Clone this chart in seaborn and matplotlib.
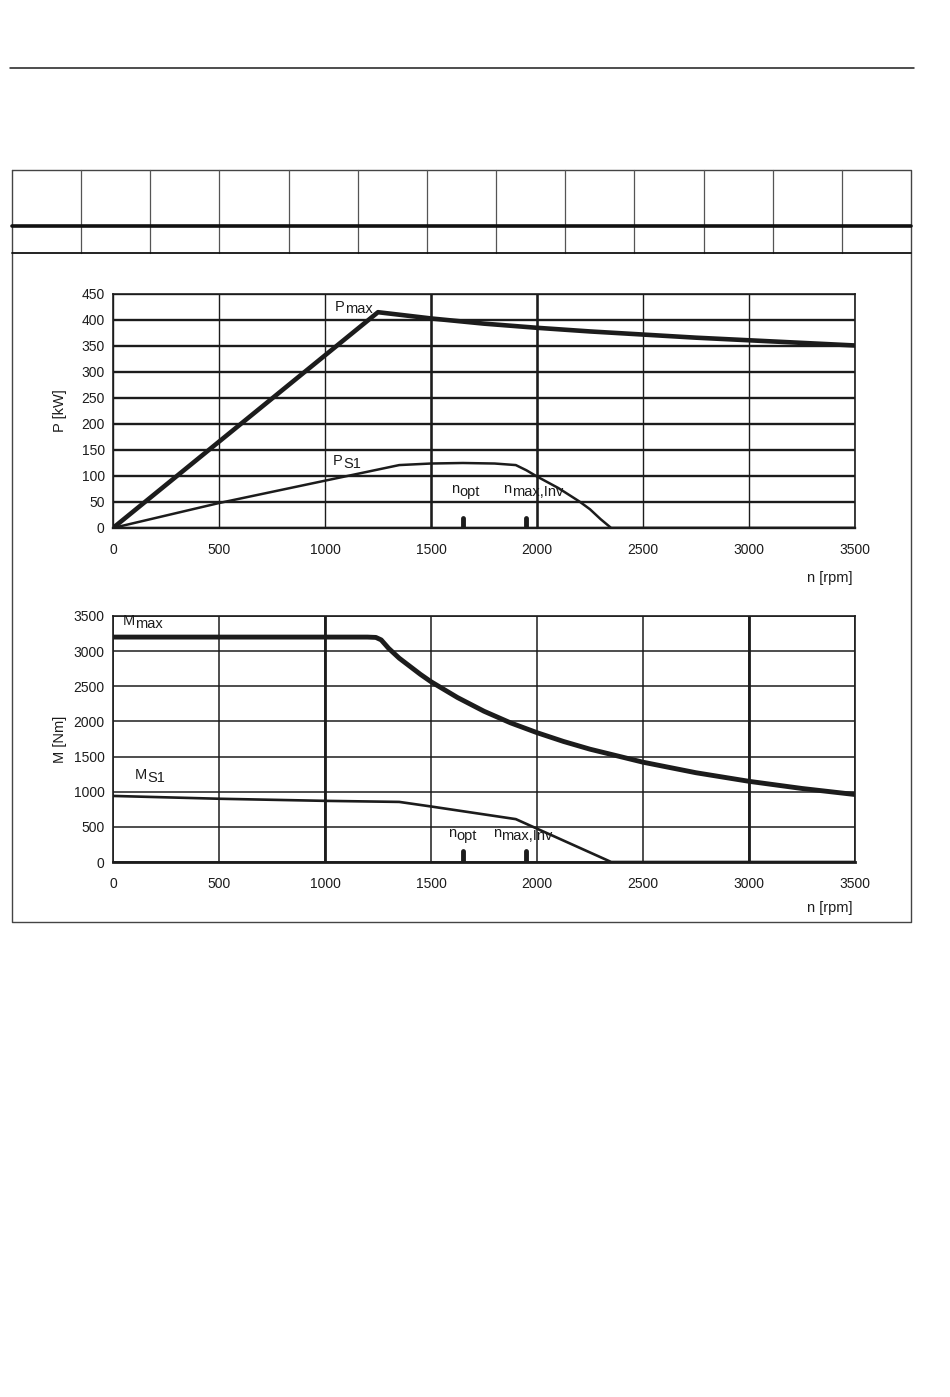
import numpy as np
import pandas as pd
import matplotlib
matplotlib.use("Agg")
import matplotlib.pyplot as plt
import seaborn as sns

# --- values ---
rpm_ticks = [0, 500, 1000, 1500, 2000, 2500, 3000, 3500]
p_ticks = [0, 50, 100, 150, 200, 250, 300, 350, 400, 450]
m_ticks = [0, 500, 1000, 1500, 2000, 2500, 3000, 3500]

pmax_rpm = [0, 1250, 1375, 1500, 1625, 1750, 1875, 2000, 2250, 2500, 2750, 3000, 3250, 3500]
pmax_kw = [0, 415, 409, 403, 398, 393, 389, 385, 378, 372, 366, 361, 356, 351]

ps1_rpm = [0, 500, 1000, 1350, 1500, 1650, 1800, 1900, 1950, 2000, 2100, 2200, 2250, 2300, 2350, 3500]
ps1_kw = [0, 48, 91, 121, 124, 125, 124, 121, 111, 99, 77, 51, 36, 17, 0, 0]

mmax_rpm = [0, 1200, 1240, 1265, 1300, 1350, 1400, 1450, 1500, 1625, 1750, 1875,
            2000, 2125, 2250, 2500, 2750, 3000, 3250, 3500]
mmax_nm = [3200, 3200, 3195, 3160, 3040, 2900, 2785, 2670, 2565, 2340, 2145, 1980,
           1840, 1715, 1605, 1420, 1270, 1148, 1046, 960]

ms1_rpm = [0, 500, 1000, 1350, 1500, 1900, 2350, 3500]
ms1_nm = [940, 900, 870, 855, 790, 610, 0, 0]

marker_rpm = [1650, 1950]
marker_p = 19
marker_m = 150

ink = "#1c1c1c"

sns.set_style("white")
plt.rcParams["font.family"] = ["Liberation Sans", "DejaVu Sans"]

fig = plt.figure(figsize=(9.5, 13.97), dpi=100)

# page decoration in pixel coordinates
bg = fig.add_axes([0, 0, 1, 1], zorder=0)
bg.set_xlim(0, 950)
bg.set_ylim(1397, 0)
bg.axis("off")
bg.plot([10, 914], [68, 68], color=ink, lw=1.1)
bg.plot([12, 911, 911, 12, 12], [170, 170, 922, 922, 170], color="#444444", lw=1.0)
for i in range(1, 13):
    xc = 12 + i * (911 - 12) / 13
    bg.plot([xc, xc], [170, 253], color="#555555", lw=0.9)
bg.plot([12, 911], [226, 226], color="#111111", lw=2.6)
bg.plot([12, 911], [253, 253], color="#111111", lw=1.3)


def sub_label(ax, x, y, main, sub, dx):
    ax.text(x, y, main, fontsize=10.5, color=ink, ha="left", va="baseline")
    ax.annotate(sub, xy=(x, y), xytext=(dx, -2), textcoords="offset points",
                fontsize=10.5, color=ink, ha="left", va="baseline")


def style_axes(ax, yticks, ylabel, label_y):
    ax.set_xlim(0, 3500)
    ax.set_ylim(yticks[0], yticks[-1])
    ax.set_xticks(rpm_ticks)
    ax.set_yticks(yticks)
    ax.tick_params(axis="x", length=3, width=1, pad=8, labelsize=10, colors=ink)
    ax.tick_params(axis="y", length=4, width=1, pad=2, labelsize=10, colors=ink)
    ax.set_xlabel("")
    ax.set_ylabel(ylabel, fontsize=10.5, color=ink)
    ax.yaxis.set_label_coords(-0.062, 0.5)
    ax.text(0.997, label_y, "n [rpm]", transform=ax.transAxes, fontsize=10.5,
            color=ink, ha="right", va="center")
    for s in ax.spines.values():
        s.set_color(ink)
        s.set_linewidth(1.2)
    ax.set_facecolor("none")


# --- power chart ---
ax1 = fig.add_axes([0.11895, 0.62205, 0.78105, 0.1675], zorder=2)
ax1.grid(axis="y", color=ink, lw=1.7)
ax1.grid(axis="x", color=ink, lw=1.0)
ax1.set_axisbelow(True)
for v in [1500, 2000]:
    ax1.axvline(v, color=ink, lw=1.8, zorder=0.5)
sns.lineplot(x=pmax_rpm, y=pmax_kw, ax=ax1, color=ink, lw=3.3, zorder=3)
sns.lineplot(x=ps1_rpm, y=ps1_kw, ax=ax1, color=ink, lw=1.8, zorder=3)
vl = ax1.vlines(marker_rpm, 0, marker_p, color=ink, lw=3.5, zorder=4)
vl.set_capstyle("round")
style_axes(ax1, p_ticks, "P [kW]", -0.214)
ax1.spines["bottom"].set_linewidth(1.7)
sub_label(ax1, 1048, 418, "P", "max", 7.2)
sub_label(ax1, 1038, 121, "P", "S1", 7.2)
sub_label(ax1, 1594, 67, "n", "opt", 6.0)
sub_label(ax1, 1841, 67, "n", "max,Inv", 6.0)

# --- torque chart ---
ax2 = fig.add_axes([0.11895, 0.38296, 0.78105, 0.1761], zorder=2)
ax2.grid(axis="both", color=ink, lw=1.1)
ax2.set_axisbelow(True)
for v in [1000, 3000]:
    ax2.axvline(v, color=ink, lw=2.0, zorder=0.5)
sns.lineplot(x=mmax_rpm, y=mmax_nm, ax=ax2, color=ink, lw=3.5, zorder=3)
sns.lineplot(x=ms1_rpm, y=ms1_nm, ax=ax2, color=ink, lw=1.9, zorder=3)
vl2 = ax2.vlines(marker_rpm, 0, marker_m, color=ink, lw=3.5, zorder=4)
vl2.set_capstyle("round")
style_axes(ax2, m_ticks, "M [Nm]", -0.187)
ax2.spines["bottom"].set_linewidth(2.0)
sub_label(ax2, 46, 3371, "M", "max", 9.2)
sub_label(ax2, 104, 1180, "M", "S1", 8.8)
sub_label(ax2, 1582, 351, "n", "opt", 6.0)
sub_label(ax2, 1791, 351, "n", "max,Inv", 6.0)

fig.savefig("out.png", dpi=100)
